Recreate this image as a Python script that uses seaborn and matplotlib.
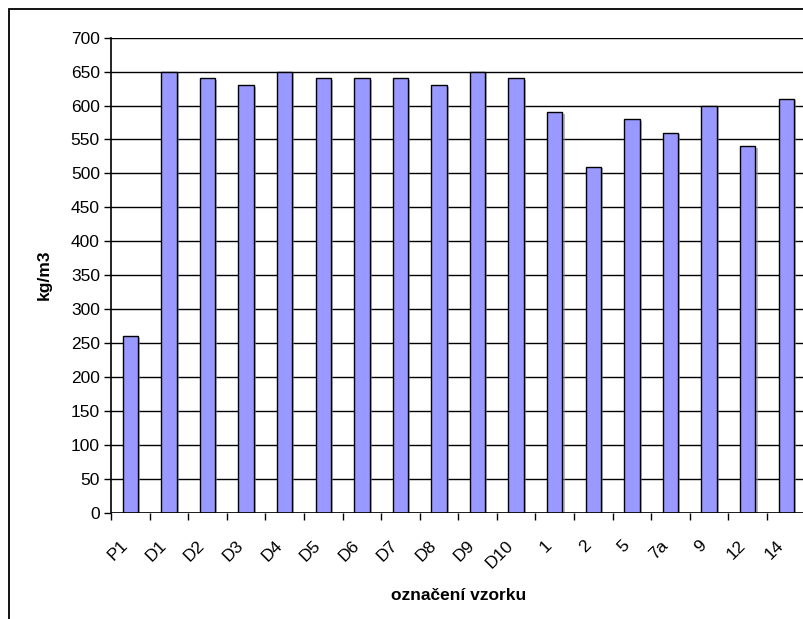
import matplotlib
matplotlib.use("Agg")
import matplotlib.pyplot as plt
import matplotlib.patheffects as pe
import matplotlib.transforms as mtransforms
from matplotlib.patches import Rectangle
from matplotlib.ticker import MultipleLocator, FixedLocator
import seaborn as sns
import pandas as pd

# sample labels and bulk density values (kg/m3)
samples = ["P1", "D1", "D2", "D3", "D4", "D5", "D6", "D7", "D8", "D9", "D10",
           "1", "2", "5", "7a", "9", "12", "14"]
density = [260, 650, 640, 630, 650, 640, 640, 640, 630, 650, 640,
           590, 510, 580, 560, 600, 540, 610]

sns.set_theme(style="white")
plt.rcParams["font.family"] = ["Liberation Sans", "DejaVu Sans"]
plt.rcParams.update({"text.color": "black", "axes.labelcolor": "black",
                     "xtick.color": "black", "ytick.color": "black"})

df = pd.DataFrame({"vzorek": samples, "hustota": density})

fig = plt.figure(figsize=(8.04, 6.19), dpi=100)
fig.patch.set_facecolor("white")
ax = fig.add_axes([111 / 804, 106.3 / 619, 694.6 / 804, 475.0 / 619])

sns.barplot(data=df, x="vzorek", y="hustota", order=samples, color="#9999FF",
            saturation=1, width=0.4, edgecolor="black", linewidth=1.0, ax=ax,
            zorder=3)
for p in ax.patches:
    p.set_path_effects([pe.SimplePatchShadow(offset=(1.5, -1), shadow_rgbFace="#888888",
                                             alpha=0.6), pe.Normal()])

ax.set_xlim(-0.5, len(samples) - 0.5)
ax.set_ylim(0, 700)
ax.yaxis.set_major_locator(MultipleLocator(50))
ax.grid(axis="y", color="black", linewidth=1.0, zorder=0)
ax.set_axisbelow(True)

for side in ("top", "right", "bottom"):
    ax.spines[side].set_visible(False)
ax.spines["left"].set_color("black")
ax.spines["left"].set_linewidth(1.2)
ax.axhline(0, color="black", linewidth=1.2, zorder=4)

ax.tick_params(axis="y", which="major", direction="out", length=5, width=1,
               color="black", labelsize=12.5, pad=3, left=True)
ax.set_xticks(range(len(samples)))
ax.set_xticklabels(samples, rotation=45, ha="right", va="center",
                   rotation_mode="anchor", fontsize=12.5)
ax.tick_params(axis="x", which="major", length=0, pad=22)
shift = mtransforms.ScaledTranslation(-5 / 100, 0, fig.dpi_scale_trans)
for lbl in ax.get_xticklabels():
    lbl.set_transform(lbl.get_transform() + shift)
ax.xaxis.set_minor_locator(FixedLocator([i - 0.5 for i in range(len(samples) + 1)]))
ax.tick_params(axis="x", which="minor", direction="out", length=5, width=1,
               color="black", bottom=True)

ax.set_xlabel("označení vzorku", fontsize=12.5, fontweight="bold", labelpad=12)
ax.set_ylabel("kg/m3", fontsize=12.5, fontweight="bold", labelpad=14)

# chart frame
fig.patches.append(Rectangle((8.5 / 804, -0.1), 1.2, 1.1 - 9.5 / 619, fill=False,
                             edgecolor="black", linewidth=1.3,
                             transform=fig.transFigure, figure=fig))

fig.savefig("out.png", dpi=100)
